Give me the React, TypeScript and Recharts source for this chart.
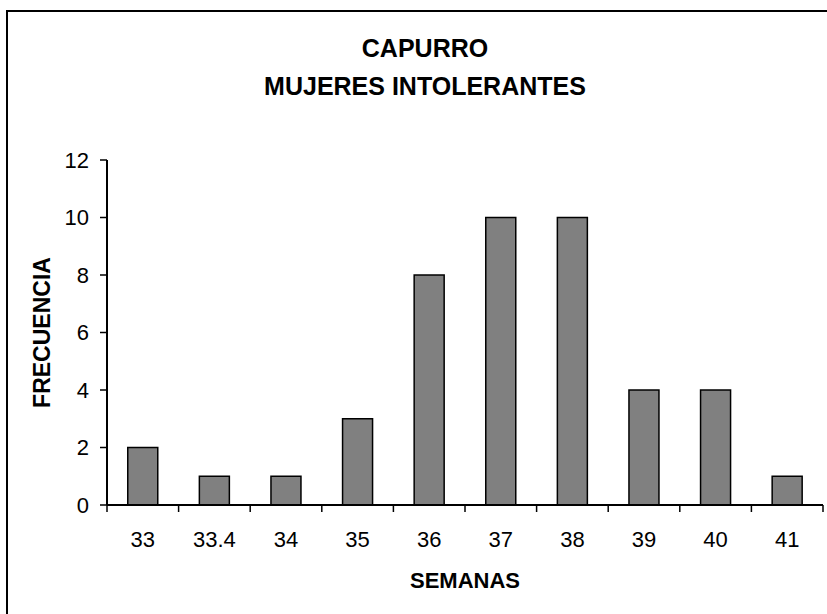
import React from "react";
import { Bar, BarChart, Label, XAxis, YAxis } from "recharts";

const semanas = ["33", "33.4", "34", "35", "36", "37", "38", "39", "40", "41"];
const frecuencia = [2, 1, 1, 3, 8, 10, 10, 4, 4, 1];
const yTicks = [0, 2, 4, 6, 8, 10, 12];

const data = semanas.map((s, i) => ({ semana: s, frecuencia: frecuencia[i] }));

const W = 827;
const H = 614;
const PLOT_LEFT = 107;
const PLOT_TOP = 160;
const PLOT_RIGHT = 823;
const PLOT_BOTTOM = 505;
const BAND = (PLOT_RIGHT - PLOT_LEFT) / semanas.length;

const FONT = "'Liberation Sans', Arial, sans-serif";

// Excel-style ticks sit between categories, not under them
function XTick(props: any) {
  const { x, payload, index } = props;
  return (
    <g>
      {index === 0 && (
        <line x1={x - BAND / 2} x2={x - BAND / 2} y1={PLOT_BOTTOM} y2={PLOT_BOTTOM + 7} stroke="#000" strokeWidth={1.5} />
      )}
      <line x1={x + BAND / 2} x2={x + BAND / 2} y1={PLOT_BOTTOM} y2={PLOT_BOTTOM + 7} stroke="#000" strokeWidth={1.5} />
      <text x={x} y={PLOT_BOTTOM + 42} textAnchor="middle" fontSize={22} fontFamily={FONT} fill="#000">
        {payload.value}
      </text>
    </g>
  );
}

export default function App() {
  return (
    <div style={{ position: "absolute", left: 0, top: 0, width: W, height: H, overflow: "hidden", background: "#fff" }}>
      <div
        style={{
          position: "absolute",
          left: 6,
          top: 10,
          width: 900,
          height: 700,
          border: "2px solid #000",
          boxSizing: "border-box",
        }}
      />
      <div
        style={{
          position: "absolute",
          left: 0,
          top: 29,
          width: 850,
          textAlign: "center",
          fontFamily: FONT,
          fontWeight: "bold",
          fontSize: 25,
          lineHeight: "38px",
          color: "#000",
        }}
      >
        CAPURRO
        <br />
        MUJERES INTOLERANTES
      </div>
      <div style={{ position: "absolute", left: 0, top: 0 }}>
        <BarChart
          width={W}
          height={H}
          data={data}
          margin={{ top: PLOT_TOP, right: W - PLOT_RIGHT, bottom: 0, left: 0 }}
          barCategoryGap="29%"
        >
          <XAxis
            dataKey="semana"
            height={H - PLOT_BOTTOM}
            tickLine={false}
            axisLine={{ stroke: "#000", strokeWidth: 2 }}
            tick={<XTick />}
            interval={0}
          >
            <Label
              value="SEMANAS"
              position="insideBottom"
              offset={26}
              style={{ fontFamily: FONT, fontWeight: "bold", fontSize: 22, fill: "#000" }}
            />
          </XAxis>
          <XAxis
            xAxisId="top"
            dataKey="semana"
            orientation="top"
            height={0}
            tick={false}
            tickLine={false}
            axisLine={{ stroke: "#999", strokeWidth: 2 }}
          />
          <YAxis
            width={PLOT_LEFT}
            domain={[0, 12]}
            ticks={yTicks}
            interval={0}
            tickSize={7}
            tickMargin={11}
            tickLine={{ stroke: "#000", strokeWidth: 1.5 }}
            axisLine={{ stroke: "#000", strokeWidth: 2 }}
            tick={{ fill: "#000", fontSize: 22, fontFamily: FONT }}
          >
            <Label
              content={(p: any) => {
                const vb = p.viewBox || { x: 0, y: PLOT_TOP, height: PLOT_BOTTOM - PLOT_TOP };
                const cx = vb.x + 42;
                const cy = vb.y + vb.height / 2;
                return (
                  <text
                    x={cx}
                    y={cy}
                    transform={`rotate(-90 ${cx} ${cy})`}
                    textAnchor="middle"
                    dominantBaseline="central"
                    fontFamily={FONT}
                    fontWeight="bold"
                    fontSize={23}
                    fill="#000"
                  >
                    FRECUENCIA
                  </text>
                );
              }}
            />
          </YAxis>
          <YAxis
            yAxisId="right"
            orientation="right"
            width={0}
            domain={[0, 12]}
            tick={false}
            tickLine={false}
            axisLine={{ stroke: "#999", strokeWidth: 2 }}
          />
          <Bar dataKey="frecuencia" fill="#808080" stroke="#000" strokeWidth={1.5} isAnimationActive={false} />
        </BarChart>
      </div>
    </div>
  );
}
